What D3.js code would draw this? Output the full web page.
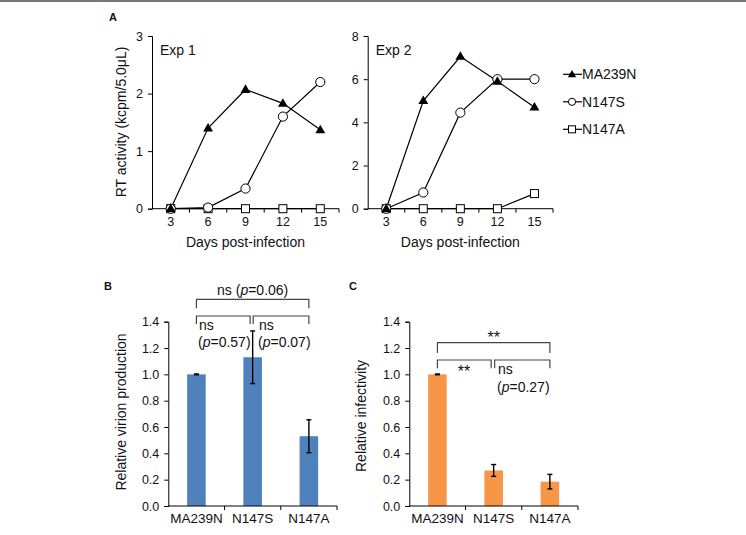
<!DOCTYPE html>
<html><head><meta charset="utf-8">
<script src="https://cdn.jsdelivr.net/npm/d3@7"></script>
<style>body{margin:0;background:#fff}svg{display:block}text{font-family:"Liberation Sans",Arial,sans-serif;fill:#111}</style>
</head><body><svg id="c" width="746" height="535"></svg>
<script>
const days = ["3","6","9","12","15"];
const series = ["MA239N","N147S","N147A"];
const exp1 = {MA239N:[0,1.4,2.07,1.83,1.37], N147S:[0,0.02,0.35,1.6,2.2], N147A:[0,0,0,0,0]};
const exp2 = {MA239N:[0,5.0,7.05,5.9,4.7], N147S:[0,0.75,4.45,6.0,6.0], N147A:[0,0,0,0,0.7]};
const exp1Ticks = [0,1,2,3];
const exp2Ticks = [0,2,4,6,8];
const groups = ["MA239N","N147S","N147A"];
const virion = [1.0,1.13,0.53];
const virionErr = [0.003,0.2,0.125];
const infect = [1.0,0.27,0.185];
const infectErr = [0.003,0.045,0.055];
const barTicks = [0,0.2,0.4,0.6,0.8,1.0,1.2,1.4];

const svg = d3.select("#c");
svg.append("rect").attr("x",0).attr("y",0).attr("width",746).attr("height",2).attr("fill","#777");

function yAxisDraw(g, y, ticks, x0, fmt){
  const ax = d3.axisLeft(y).tickValues(ticks).tickSize(4).tickPadding(5).tickFormat(fmt);
  const a = g.append("g").attr("transform",`translate(${x0},0)`).call(ax);
  a.select(".domain").attr("stroke","#000");
  a.selectAll(".tick line").attr("stroke","#000");
  a.selectAll("text").style("font-size","12.5px").attr("fill","#222");
}
function xAxisDraw(g, x, y0, fontSize){
  const [r0,r1] = x.range();
  g.append("line").attr("x1",r0).attr("x2",r1).attr("y1",y0).attr("y2",y0).attr("stroke","#000");
  const dom = x.domain();
  for(let i=1;i<dom.length;i++){
    const bx = x(dom[i]);
    g.append("line").attr("x1",bx).attr("x2",bx).attr("y1",y0).attr("y2",y0+4).attr("stroke","#000");
  }
  g.append("line").attr("x1",r1).attr("x2",r1).attr("y1",y0).attr("y2",y0+4).attr("stroke","#000");
  dom.forEach(d=>{
    g.append("text").attr("x",x(d)+x.bandwidth()/2).attr("y",y0+17).attr("text-anchor","middle")
      .style("font-size",fontSize+"px").attr("fill","#222").text(d);
  });
}

function marker(g, type, cx, cy){
  if(type==="MA239N"){
    g.append("path").attr("d",d3.symbol(d3.symbolTriangle,42)()).attr("transform",`translate(${cx},${cy+0.5})`).attr("fill","#000");
  } else if(type==="N147S"){
    g.append("circle").attr("cx",cx).attr("cy",cy).attr("r",4.6).attr("fill","#fff").attr("stroke","#000").attr("stroke-width",1);
  } else {
    g.append("rect").attr("x",cx-4).attr("y",cy-4).attr("width",8).attr("height",8).attr("fill","#fff").attr("stroke","#000").attr("stroke-width",1);
  }
}

function linePanel(data, ticks, left, right, top, bottom, label){
  const g = svg.append("g");
  const x = d3.scaleBand().domain(days).range([left,right]).paddingInner(0).paddingOuter(0);
  const y = d3.scaleLinear().domain([0,ticks[ticks.length-1]]).range([bottom,top]);
  yAxisDraw(g,y,ticks,left,d3.format("d"));
  xAxisDraw(g,x,bottom,12.5);
  const cx = d => x(d)+x.bandwidth()/2;
  const order = ["N147A","N147S","MA239N"];
  order.forEach(s=>{
    const ln = d3.line().x((v,i)=>cx(days[i])).y(v=>y(v));
    g.append("path").attr("d",ln(data[s])).attr("fill","none").attr("stroke","#000").attr("stroke-width",1.2);
  });
  order.forEach(s=>{ data[s].forEach((v,i)=>marker(g,s,cx(days[i]),y(v))); });
  g.append("text").attr("x",left+8).attr("y",top+19).style("font-size","14px").text(label);
  g.append("text").attr("x",(left+right)/2).attr("y",bottom+38).attr("text-anchor","middle").style("font-size","14px").text("Days post-infection");
}

linePanel(exp1, exp1Ticks, 152, 339, 36, 208.7, "Exp 1");
linePanel(exp2, exp2Ticks, 367.7, 553, 36, 208.7, "Exp 2");

svg.append("text").attr("transform","translate(126,122) rotate(-90)").attr("text-anchor","middle").style("font-size","14px").text("RT activity (kcpm/5.0μL)");
svg.append("text").attr("x",109).attr("y",21).style("font-size","11px").style("font-weight","bold").text("A");

// legend
series.forEach((s,i)=>{
  const ly = 74.3 + i*27.5;
  svg.append("line").attr("x1",563).attr("x2",582).attr("y1",ly).attr("y2",ly).attr("stroke","#000").attr("stroke-width",1.2);
  const lg = svg.append("g");
  if(s==="MA239N") lg.append("path").attr("d",d3.symbol(d3.symbolTriangle,30)()).attr("transform",`translate(572,${ly+0.5})`).attr("fill","#000");
  else if(s==="N147S") lg.append("circle").attr("cx",572).attr("cy",ly).attr("r",3.6).attr("fill","#fff").attr("stroke","#000");
  else lg.append("rect").attr("x",568.5).attr("y",ly-3.5).attr("width",7).attr("height",7).attr("fill","#fff").attr("stroke","#000");
  svg.append("text").attr("x",582).attr("y",ly+5).style("font-size","14px").text(s);
});

function barPanel(vals, errs, left, right, color){
  const g = svg.append("g");
  const x = d3.scaleBand().domain(groups).range([left,right]).paddingInner(0).paddingOuter(0);
  const y = d3.scaleLinear().domain([0,1.4]).range([506,321.7]);
  yAxisDraw(g,y,barTicks,left,d3.format(".1f"));
  const bw = x.bandwidth()*0.33;
  groups.forEach((c,i)=>{
    const cx = x(c)+x.bandwidth()/2;
    g.append("rect").attr("x",cx-bw/2).attr("y",y(vals[i])).attr("width",bw).attr("height",y(0)-y(vals[i])).attr("fill",color);
    const t = y(vals[i]+errs[i]), b = y(vals[i]-errs[i]);
    g.append("line").attr("x1",cx).attr("x2",cx).attr("y1",t).attr("y2",b).attr("stroke","#000").attr("stroke-width",1.4);
    g.append("line").attr("x1",cx-2.5).attr("x2",cx+2.5).attr("y1",t).attr("y2",t).attr("stroke","#000").attr("stroke-width",1.4);
    g.append("line").attr("x1",cx-2.5).attr("x2",cx+2.5).attr("y1",b).attr("y2",b).attr("stroke","#000").attr("stroke-width",1.4);
  });
  xAxisDraw(g,x,506,13.5);
  return {x, g, cx: c=>x(c)+x.bandwidth()/2};
}

function bracket(g, x1, x2, yTop, yBot){
  g.append("path").attr("d",`M${x1},${yBot}V${yTop}H${x2}V${yBot}`).attr("fill","none").attr("stroke","#444").attr("stroke-width",1.2);
}
function pText(g, x, y, pre, val, anchor){
  const t = g.append("text").attr("x",x).attr("y",y).attr("text-anchor",anchor||"start").style("font-size","14px");
  t.append("tspan").text(pre+"(");
  t.append("tspan").style("font-style","italic").text("p");
  t.append("tspan").text("="+val+")");
}

const B = barPanel(virion, virionErr, 168.3, 337, "#4f81bd");
svg.append("text").attr("transform","translate(126,412) rotate(-90)").attr("text-anchor","middle").style("font-size","14px").text("Relative virion production");
svg.append("text").attr("x",104).attr("y",290).style("font-size","11px").style("font-weight","bold").text("B");
bracket(B.g, B.cx("MA239N"), B.cx("N147A"), 299.3, 308.3);
pText(B.g, (B.cx("MA239N")+B.cx("N147A"))/2, 295, "ns ", "0.06", "middle");
bracket(B.g, B.cx("MA239N"), B.cx("N147S")-2.5, 316, 324);
bracket(B.g, B.cx("N147S")+0.5, B.cx("N147A"), 316, 324);
B.g.append("text").attr("x",199).attr("y",330).style("font-size","14px").text("ns");
pText(B.g, 198, 346.5, "", "0.57");
B.g.append("text").attr("x",259).attr("y",330).style("font-size","14px").text("ns");
pText(B.g, 258, 346.5, "", "0.07");

const C = barPanel(infect, infectErr, 409.3, 578, "#f79646");
svg.append("text").attr("transform","translate(366,416) rotate(-90)").attr("text-anchor","middle").style("font-size","14px").text("Relative infectivity");
svg.append("text").attr("x",349).attr("y",290).style("font-size","11px").style("font-weight","bold").text("C");
bracket(C.g, C.cx("MA239N"), C.cx("N147A"), 342.7, 353);
C.g.append("text").attr("x",(C.cx("MA239N")+C.cx("N147A"))/2).attr("y",343).attr("text-anchor","middle").style("font-size","16px").text("**");
bracket(C.g, C.cx("MA239N"), C.cx("N147S")-2.5, 360, 368.3);
bracket(C.g, C.cx("N147S")+1, C.cx("N147A"), 360, 368.3);
C.g.append("text").attr("x",464).attr("y",377).attr("text-anchor","middle").style("font-size","16px").text("**");
C.g.append("text").attr("x",498).attr("y",374).style("font-size","14px").text("ns");
pText(C.g, 497, 391.5, "", "0.27");
</script></body></html>
